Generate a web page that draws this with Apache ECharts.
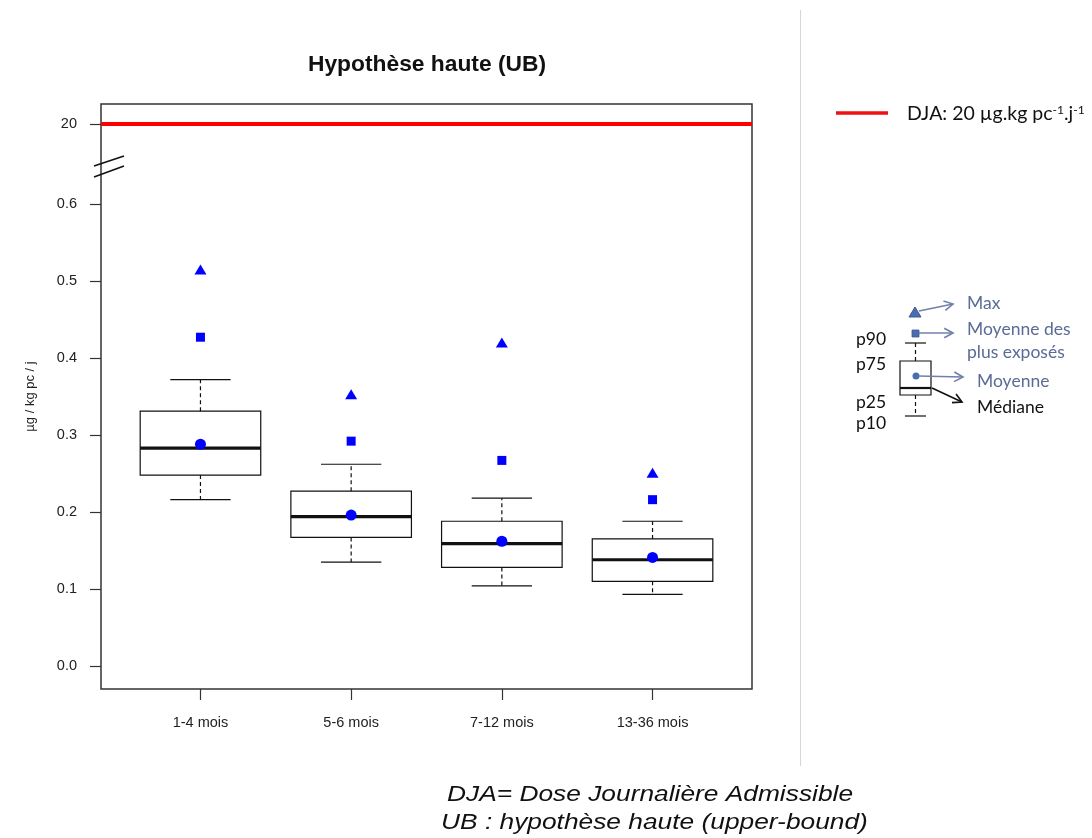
<!DOCTYPE html>
<html>
<head>
<meta charset="utf-8">
<script src="https://cdn.jsdelivr.net/npm/echarts@6/dist/echarts.min.js"></script>
<style>html,body{margin:0;padding:0;background:#fff}#c{width:1092px;height:838px}</style>
</head>
<body>
<div id="c"></div>
<script>
// ---- data ----
const categories = ['1-4 mois', '5-6 mois', '7-12 mois', '13-36 mois'];
const p10    = [0.216, 0.135, 0.104, 0.093];
const p25    = [0.248, 0.167, 0.128, 0.110];
const median = [0.283, 0.194, 0.159, 0.138];
const p75    = [0.331, 0.227, 0.188, 0.165];
const p90    = [0.372, 0.262, 0.218, 0.188];
const mean   = [0.288, 0.196, 0.162, 0.141];
const meanMostExposed = [0.427, 0.292, 0.267, 0.216];
const maxVal = [0.515, 0.353, 0.420, 0.251];
const yTickValues = [0, 0.1, 0.2, 0.3, 0.4, 0.5, 0.6];
const DJA = 20;              // µg.kg pc-1.j-1
const title = 'Hypothèse haute (UB)';
const yName = 'µg / kg pc / j';

// broken axis: values above the break are drawn at the break position
const BREAK_FROM = 0.65, BREAK_AT = 0.704;
const axisPos = v => (v > BREAK_FROM ? BREAK_AT : v);
const yAxisTicks = yTickValues.concat([axisPos(DJA)]);

const FONT = "'Liberation Sans', Arial, sans-serif";
const LEG = "Lato, 'Open Sans', sans-serif";
const LEGBLUE = '#5b6b96';
const ARROW = '#6f80aa';

const boxData = categories.map((c, i) => [i + 1, p10[i], p25[i], median[i], p75[i], p90[i]]);
const xs = categories.map((c, i) => i + 1);

function renderBox(params, api) {
  const x = api.value(0);
  const pt = k => api.coord([x, api.value(k)]);
  const a = pt(1), b = pt(2), m = pt(3), d = pt(4), e = pt(5);
  const bw = api.size([0.8, 0])[0];
  const h = bw / 2, cap = bw / 4;
  const cx = a[0];
  const black = '#111';
  return {
    type: 'group',
    children: [
      {type: 'line', shape: {x1: cx, y1: b[1], x2: cx, y2: a[1]}, style: {stroke: black, lineWidth: 1.2, lineDash: [4, 3]}},
      {type: 'line', shape: {x1: cx, y1: d[1], x2: cx, y2: e[1]}, style: {stroke: black, lineWidth: 1.2, lineDash: [4, 3]}},
      {type: 'line', shape: {x1: cx - cap, y1: a[1], x2: cx + cap, y2: a[1]}, style: {stroke: black, lineWidth: 1.2}},
      {type: 'line', shape: {x1: cx - cap, y1: e[1], x2: cx + cap, y2: e[1]}, style: {stroke: black, lineWidth: 1.2}},
      {type: 'rect', shape: {x: cx - h, y: d[1], width: bw, height: b[1] - d[1]}, style: {fill: 'none', stroke: black, lineWidth: 1.2}},
      {type: 'line', shape: {x1: cx - h, y1: m[1], x2: cx + h, y2: m[1]}, style: {stroke: black, lineWidth: 3.2}}
    ]
  };
}

function arrow(x1, y1, x2, y2, color) {
  const ang = Math.atan2(y2 - y1, x2 - x1);
  const L = 10, sp = 0.5;
  return [
    {type: 'line', shape: {x1, y1, x2, y2}, style: {stroke: color, lineWidth: 1.6}},
    {type: 'polyline', shape: {points: [
      [x2 - L * Math.cos(ang - sp), y2 - L * Math.sin(ang - sp)], [x2, y2],
      [x2 - L * Math.cos(ang + sp), y2 - L * Math.sin(ang + sp)]]},
      style: {stroke: color, lineWidth: 1.6, fill: 'none'}}
  ];
}
function txt(x, y, s, color) {
  return {type: 'text', x, y, style: {text: s, fill: color, font: '17.5px ' + LEG, textVerticalAlign: 'middle'}};
}

const graphics = [
  // separator
  {type: 'line', shape: {x1: 800.5, y1: 10, x2: 800.5, y2: 766}, style: {stroke: '#d6d6d6', lineWidth: 1}},
  // axis break marks
  {type: 'line', shape: {x1: 94, y1: 166, x2: 124, y2: 156}, style: {stroke: '#111', lineWidth: 1.6}},
  {type: 'line', shape: {x1: 94, y1: 177, x2: 124, y2: 166}, style: {stroke: '#111', lineWidth: 1.6}},
  // DJA legend
  {type: 'line', shape: {x1: 836, y1: 113, x2: 888, y2: 113}, style: {stroke: '#ee1111', lineWidth: 3.5}},
  {type: 'text', x: 907, y: 114, style: {
    text: 'DJA: 20 µg.kg pc{s|-1}.j{s|-1}', fill: '#111', font: '19.5px ' + LEG, textVerticalAlign: 'middle',
    rich: {s: {fontSize: 12, fontFamily: LEG, verticalAlign: 'top', lineHeight: 12, fill: '#111'}}
  }},
  // box legend
  {type: 'polygon', shape: {points: [[909, 317], [921, 317], [915, 307]]}, style: {fill: '#4a6db0', stroke: '#3a5a95', lineWidth: 1}},
  {type: 'rect', shape: {x: 912, y: 330, width: 7, height: 7}, style: {fill: '#4a6db0', stroke: '#3a5a95', lineWidth: 0.8}},
  {type: 'line', shape: {x1: 905, y1: 343, x2: 926, y2: 343}, style: {stroke: '#111', lineWidth: 1.2}},
  {type: 'line', shape: {x1: 915.5, y1: 343, x2: 915.5, y2: 361}, style: {stroke: '#111', lineWidth: 1.2, lineDash: [4, 3]}},
  {type: 'rect', shape: {x: 900, y: 361, width: 31, height: 34}, style: {fill: 'none', stroke: '#111', lineWidth: 1.2}},
  {type: 'line', shape: {x1: 900, y1: 388, x2: 931, y2: 388}, style: {stroke: '#111', lineWidth: 2.2}},
  {type: 'line', shape: {x1: 915.5, y1: 395, x2: 915.5, y2: 416}, style: {stroke: '#111', lineWidth: 1.2, lineDash: [4, 3]}},
  {type: 'line', shape: {x1: 905, y1: 416, x2: 926, y2: 416}, style: {stroke: '#111', lineWidth: 1.2}},
  {type: 'circle', shape: {cx: 916, cy: 376, r: 3.5}, style: {fill: '#4a6db0'}},
  ...arrow(919, 311, 953, 304, ARROW),
  ...arrow(919, 333, 953, 333, ARROW),
  ...arrow(918, 376, 963, 377, ARROW),
  ...arrow(932, 388, 962, 402, '#111'),
  txt(967, 303, 'Max', LEGBLUE),
  txt(967, 329, 'Moyenne des', LEGBLUE),
  txt(967, 352, 'plus exposés', LEGBLUE),
  txt(977, 381, 'Moyenne', LEGBLUE),
  txt(977, 407, 'Médiane', '#111'),
  txt(856, 339, 'p90', '#111'),
  txt(856, 364, 'p75', '#111'),
  txt(856, 402, 'p25', '#111'),
  txt(856, 423, 'p10', '#111'),
  // footnotes
  {type: 'text', x: 447, y: 795, scaleX: 1.17, style: {text: 'DJA= Dose Journalière Admissible', fill: '#111', font: 'italic 22.5px ' + FONT, textVerticalAlign: 'middle'}},
  {type: 'text', x: 441, y: 823, scaleX: 1.17, style: {text: 'UB : hypothèse haute (upper-bound)', fill: '#111', font: 'italic 22.5px ' + FONT, textVerticalAlign: 'middle'}}
];

const chart = echarts.init(document.getElementById('c'), null, {renderer: 'canvas'});
chart.setOption({
  backgroundColor: '#fff',
  animation: false,
  title: {
    text: title, left: 422, top: 48, textAlign: 'center',
    textStyle: {fontFamily: FONT, fontSize: 22.8, fontWeight: 'bold', color: '#111'}
  },
  grid: {left: 101, right: 340, top: 104, bottom: 149, show: true, borderColor: '#333', borderWidth: 1.5, backgroundColor: 'transparent'},
  xAxis: {
    type: 'value', min: 0.34, max: 4.66,
    axisLine: {show: false, onZero: false},
    splitLine: {show: false},
    axisTick: {show: true, inside: false, length: 11, customValues: xs, lineStyle: {color: '#333', width: 1.2}},
    axisLabel: {customValues: xs, formatter: v => categories[Math.round(v) - 1] || '', margin: 26,
      fontFamily: FONT, fontSize: 14.5, color: '#222'}
  },
  yAxis: {
    type: 'value', min: -0.0299, max: 0.7299,
    name: yName, nameLocation: 'middle', nameRotate: 90, nameGap: 64,
    nameTextStyle: {fontFamily: FONT, fontSize: 13, color: '#222'},
    axisLine: {show: false, onZero: false},
    splitLine: {show: false},
    axisTick: {show: true, inside: false, length: 11, customValues: yAxisTicks, lineStyle: {color: '#333', width: 1.2}},
    axisLabel: {customValues: yAxisTicks, margin: 24, fontFamily: FONT, fontSize: 14.5, color: '#222',
      formatter: v => (Math.abs(v - BREAK_AT) < 1e-9 ? String(DJA) : v.toFixed(1))}
  },
  series: [
    {type: 'custom', name: 'box', renderItem: renderBox, data: boxData, encode: {x: 0, y: [1, 2, 3, 4, 5]}, z: 2, silent: true},
    {type: 'scatter', name: 'Moyenne', data: categories.map((c, i) => [i + 1, mean[i]]), symbol: 'circle', symbolSize: 11,
      itemStyle: {color: '#0000ff', opacity: 1}, z: 3, silent: true,
      markLine: {silent: true, precision: 6, symbol: ['none', 'none'], label: {show: false},
        lineStyle: {color: '#ff0000', width: 4, type: 'solid'}, data: [{yAxis: axisPos(DJA)}]}},
    {type: 'scatter', name: 'Moyenne des plus exposés', data: categories.map((c, i) => [i + 1, meanMostExposed[i]]), symbol: 'rect', symbolSize: 9,
      itemStyle: {color: '#0000ff', opacity: 1}, z: 3, silent: true},
    {type: 'scatter', name: 'Max', data: categories.map((c, i) => [i + 1, maxVal[i]]), symbol: 'triangle', symbolSize: [12, 10],
      itemStyle: {color: '#0000ff', opacity: 1}, z: 3, silent: true}
  ],
  graphic: graphics
});
</script>
</body>
</html>
